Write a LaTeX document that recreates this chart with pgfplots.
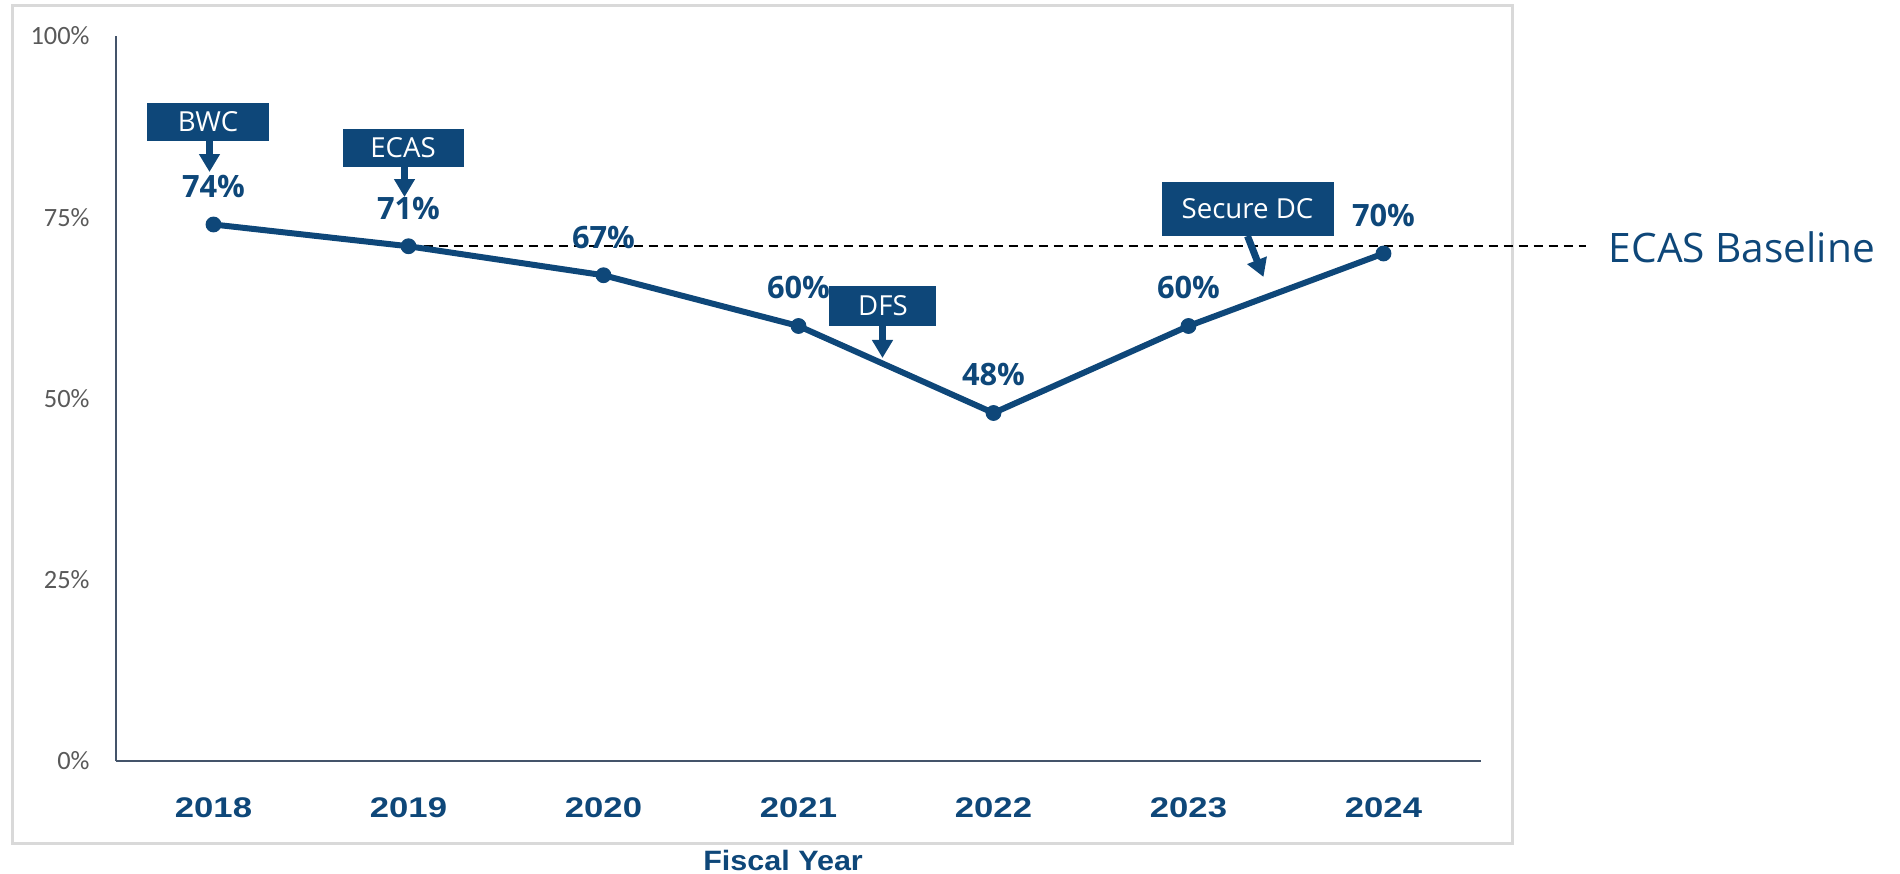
\documentclass[border=0pt]{standalone}
\usepackage{pgfplots}
\pgfplotsset{compat=1.18}
\usepackage{pgfplotstable}
\usepackage{fontspec}
\setmainfont{Open Sans}
\newfontfamily\tickfont{Carlito}
\newfontfamily\yearfont[FakeStretch=1.22]{Liberation Sans}
\newfontfamily\titlefont[FakeStretch=1.09]{Liberation Sans}
\usetikzlibrary{arrows.meta}
\definecolor{navy}{RGB}{14,71,121}
\definecolor{axisgray}{RGB}{68,84,106}
\definecolor{framegray}{RGB}{217,217,217}
\definecolor{tickgray}{RGB}{89,89,89}

% fiscal year index (0 = 2018) and score in percent
\pgfplotstableread{
x val
0 74
1 71
2 67
3 60
4 48
5 60
6 70
}\fydata

\begin{document}
\begin{tikzpicture}[
  callout/.style={fill=navy, text=white, inner sep=0pt, font=\fontsize{13.8}{14}\selectfont},
  pointer/.style={navy, line width=3.5pt, -{Triangle[width=10pt,length=9pt]}}]
\begin{axis}[name=ax,
  width=682.5pt, height=362.5pt, scale only axis,
  xmin=-0.5, xmax=6.5, ymin=0, ymax=100,
  axis x line=bottom, axis y line=left,
  axis line style={axisgray, line width=1pt, -},
  /pgf/number format/assume math mode=true,
  xtick={0,...,6}, xticklabels={2018,2019,2020,2021,2022,2023,2024},
  ytick={0,25,50,75,100},
  yticklabel={\pgfmathprintnumber{\tick}\%},
  major tick length=0pt,
  tick style={draw=none},
  yticklabel style={font=\tickfont\fontsize{13.2}{13.2}\selectfont, text=tickgray, inner sep=0pt, xshift=-13pt},
  xticklabel style={font=\yearfont\bfseries\fontsize{14.2}{14.2}\selectfont, text=navy, inner sep=0pt, anchor=north, yshift=-18pt},
  clip=false,
]
% outer chart frame
\draw[framegray, line width=1.5pt] (axis cs:-1.0308,104.14) rectangle (axis cs:6.6615,-11.31);

% ECAS baseline
\addplot[black, line width=1.1pt, dash pattern=on 4.5pt off 3pt] coordinates {(1,71) (7.036,71)};
\node[anchor=base west, inner sep=0pt, yshift=-7.9pt, text=navy, font=\fontsize{20.3}{20.3}\selectfont] at (axis cs:7.154,71) {ECAS Baseline};

\addplot[navy, line width=3pt, mark=*, mark size=3.7pt, mark options={line width=0.5pt},
  nodes near coords={\pgfmathprintnumber{\pgfplotspointmeta}\%},
  every node near coord/.append style={font=\bfseries\fontsize{15.4}{15.4}\selectfont, text=navy, anchor=base, yshift=13.5pt, inner sep=0pt}]
  table[x=x, y=val] {\fydata};

% callouts
\node[callout, minimum width=60.5pt, minimum height=19pt] at (axis cs:-0.0282,88.14) {BWC};
\draw[pointer] (axis cs:-0.0205,85.52) -- (axis cs:-0.0205,81.24);
\node[callout, minimum width=60.5pt, minimum height=19pt] at (axis cs:0.9718,84.55) {ECAS};
\draw[pointer] (axis cs:0.9795,81.93) -- (axis cs:0.9795,77.79);
\node[callout, minimum width=53.5pt, minimum height=20pt] at (axis cs:3.4333,62.76) {DFS};
\draw[pointer] (axis cs:3.4308,60.0) -- (axis cs:3.4308,55.59);
\node[callout, minimum width=86pt, minimum height=27pt] at (axis cs:5.3026,76.14) {Secure DC};
\draw[pointer] (axis cs:5.3026,72.41) -- (axis cs:5.3846,66.76);

\node[anchor=base, inner sep=0pt, yshift=-54.5pt, text=navy, font=\titlefont\bfseries\fontsize{14}{14}\selectfont] at (axis cs:2.921,0) {Fiscal Year};
\end{axis}
\pgfresetboundingbox
\path[use as bounding box] (ax.south west) ++(-58pt,-56pt) rectangle ++(950pt,436.5pt);
\end{tikzpicture}
\end{document}
